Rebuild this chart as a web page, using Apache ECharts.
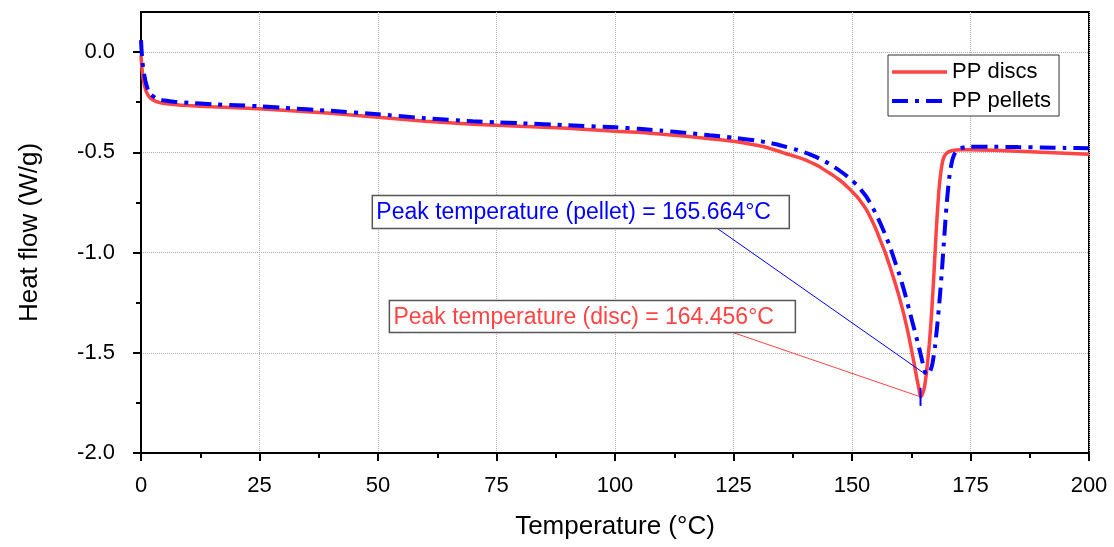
<!DOCTYPE html>
<html>
<head>
<meta charset="utf-8">
<script src="https://cdn.jsdelivr.net/npm/echarts@6/dist/echarts.min.js"></script>
<style>
  html, body { margin: 0; padding: 0; background: #fff; }
  #main { width: 1114px; height: 547px; }
</style>
</head>
<body>
<div id="main"></div>
<script>
var FONT = '"Liberation Sans", Arial, sans-serif';

// PP discs (red, solid)
var discTemp = [0, 0.2, 0.5, 1, 1.5, 2, 3, 4, 5, 7, 10, 15, 20, 25, 30, 40, 50, 60, 70, 75, 80, 90, 100, 105, 110, 115, 120, 125,
  130, 131, 132, 133, 134, 135, 136, 137, 138, 139, 140, 141, 142, 143, 144, 145, 146, 147, 148, 149, 150, 151, 152, 153, 154,
  155, 156, 157, 158, 159, 160, 161, 162, 163, 163.7, 164.2, 164.456, 164.8, 165.3, 165.8, 166.3, 166.8, 167.3, 167.8, 168.3,
  168.8, 169.3, 170, 171, 172, 173, 175, 180, 185, 190, 195, 200];
var discFlow = [-0.02, -0.08, -0.14, -0.19, -0.215, -0.23, -0.245, -0.252, -0.257, -0.262, -0.267, -0.273, -0.278, -0.283, -0.29, -0.305, -0.325, -0.345, -0.36, -0.365, -0.37, -0.38, -0.395, -0.4, -0.41, -0.42, -0.432, -0.445,
  -0.465, -0.47, -0.476, -0.483, -0.49, -0.498, -0.506, -0.513, -0.52, -0.528, -0.537, -0.547, -0.558, -0.57, -0.585, -0.6, -0.615, -0.632, -0.65, -0.672, -0.695, -0.72, -0.75, -0.785, -0.83,
  -0.88, -0.94, -1.0, -1.07, -1.145, -1.225, -1.315, -1.42, -1.54, -1.63, -1.69, -1.72, -1.71, -1.67, -1.58, -1.46, -1.3, -1.1, -0.88, -0.7,
  -0.59, -0.53, -0.503, -0.492, -0.488, -0.487, -0.487, -0.49, -0.495, -0.5, -0.505, -0.51];

// PP pellets (blue, dash-dot)
var pelletTemp = [0, 0.2, 0.5, 1, 1.5, 2, 3, 4, 5, 7, 10, 15, 20, 25, 30, 40, 50, 60, 70, 75, 80, 90, 100, 105, 110, 115, 120, 125,
  130, 131, 132, 133, 134, 135, 136, 137, 138, 139, 140, 141, 142, 143, 144, 145, 146, 147, 148, 149, 150, 151, 152, 153, 154,
  155, 156, 157, 158, 159, 160, 161, 162, 163, 164, 164.8, 165.3, 165.664, 166.1, 166.6, 167, 167.5, 168, 168.5, 169, 169.5,
  170, 170.5, 171, 171.5, 172, 173, 174, 175, 180, 185, 190, 195, 200];
var pelletFlow = [0.06, -0.02, -0.09, -0.15, -0.19, -0.21, -0.228, -0.237, -0.242, -0.248, -0.253, -0.26, -0.265, -0.27, -0.278, -0.293, -0.31, -0.33, -0.345, -0.35, -0.355, -0.365, -0.375, -0.383, -0.392, -0.403, -0.415, -0.427,
  -0.442, -0.446, -0.45, -0.455, -0.46, -0.466, -0.472, -0.478, -0.485, -0.492, -0.5, -0.509, -0.519, -0.53, -0.542, -0.555, -0.57, -0.585, -0.602, -0.62, -0.64, -0.663, -0.69, -0.72, -0.76,
  -0.805, -0.855, -0.91, -0.97, -1.04, -1.11, -1.19, -1.28, -1.37, -1.46, -1.54, -1.585, -1.61, -1.605, -1.585, -1.55, -1.47, -1.36, -1.23, -1.08, -0.91,
  -0.75, -0.63, -0.555, -0.515, -0.495, -0.48, -0.474, -0.472, -0.472, -0.474, -0.476, -0.478, -0.48];

var xTicks = [0, 25, 50, 75, 100, 125, 150, 175, 200];
var yTicks = [-2, -1.5, -1, -0.5, 0];
var seriesNames = ['PP discs', 'PP pellets'];
var discPeak = [164.456, -1.72];
var pelletPeak = [165.664, -1.61];
var discLabel = 'Peak temperature (disc) = 164.456°C';
var pelletLabel = 'Peak temperature (pellet) = 165.664°C';

var RED = '#ff4444';
var BLUE = '#0000ff';
var blueDash = [16, 7, 4, 7];

function zip(xs, ys) {
  return xs.map(function (x, i) { return [x, ys[i]]; });
}

var chart = echarts.init(document.getElementById('main'));

var tickStyle = { inside: false, length: 8, lineStyle: { width: 2, color: '#000' } };
var minorStyle = { show: true, splitNumber: 2, length: 5, lineStyle: { width: 2, color: '#000' } };
var gridLine = { show: true, lineStyle: { color: '#b0b0b0', type: 'dotted', width: 1 } };

var option = {
  animation: false,
  backgroundColor: '#fff',
  textStyle: { fontFamily: FONT },
  grid: {
    left: 141, right: 25, top: 12, bottom: 94,
    show: true, borderColor: '#000', borderWidth: 2
  },
  legend: {
    orient: 'vertical',
    left: 888, top: 55,
    padding: [6, 8, 4, 2],
    itemWidth: 55, itemHeight: 14, itemGap: 7,
    itemStyle: { opacity: 0 },
    backgroundColor: '#fff', borderColor: '#333', borderWidth: 1, borderRadius: 0,
    textStyle: { fontFamily: FONT, fontSize: 22, color: '#000' },
    data: [
      { name: seriesNames[0], lineStyle: { color: RED, width: 3.5, type: 'solid' } },
      { name: seriesNames[1], lineStyle: { color: BLUE, width: 4, type: blueDash } }
    ]
  },
  xAxis: {
    type: 'value', min: 0, max: 200, interval: 25,
    name: 'Temperature (°C)', nameLocation: 'middle', nameGap: 61,
    nameTextStyle: { fontFamily: FONT, fontSize: 26, color: '#000' },
    axisLine: { onZero: false, lineStyle: { color: '#000', width: 2 } },
    axisTick: tickStyle,
    minorTick: minorStyle,
    axisLabel: { margin: 22, fontFamily: FONT, fontSize: 22, color: '#000', customValues: xTicks },
    splitLine: gridLine
  },
  yAxis: {
    type: 'value', min: -2, max: 0.2, interval: 0.5,
    name: 'Heat flow (W/g)', nameLocation: 'middle', nameGap: 98,
    nameTextStyle: { fontFamily: FONT, fontSize: 26, color: '#000' },
    axisLine: { onZero: false, lineStyle: { color: '#000', width: 2 } },
    axisTick: Object.assign({ customValues: yTicks }, tickStyle),
    minorTick: minorStyle,
    axisLabel: {
      margin: 26, fontFamily: FONT, fontSize: 22, color: '#000',
      customValues: yTicks,
      formatter: function (v) { return v.toFixed(1); }
    },
    splitLine: gridLine
  },
  series: [
    {
      name: seriesNames[0],
      type: 'line',
      data: zip(discTemp, discFlow),
      showSymbol: false, symbol: 'none', smooth: 0.2,
      color: RED,
      lineStyle: { color: RED, width: 3.5 },
      z: 2,
      markLine: {
        silent: true, symbol: ['none', 'none'], animation: false,
        label: { show: false },
        lineStyle: { color: RED, width: 1, type: 'solid' },
        data: [[{ coord: [125.0, -1.40] }, { coord: discPeak }]]
      }
    },
    {
      name: seriesNames[1],
      type: 'line',
      data: zip(pelletTemp, pelletFlow),
      showSymbol: false, symbol: 'none', smooth: 0.2,
      color: BLUE,
      lineStyle: { color: BLUE, width: 4, type: blueDash },
      z: 3,
      markLine: {
        silent: true, symbol: ['none', 'none'], animation: false,
        label: { show: false },
        lineStyle: { color: BLUE, width: 1, type: 'solid' },
        data: [[{ coord: [121.6, -0.88] }, { coord: pelletPeak }]]
      },
      markPoint: {
        silent: true, animation: false,
        symbol: 'rect', symbolSize: [2, 18],
        itemStyle: { color: BLUE },
        label: { show: false },
        data: [{ coord: discPeak }]
      }
    }
  ]
};

chart.setOption(option);

// annotation boxes anchored at data coordinates (top-left corner of each box)
var boxes = [
  { at: [48.8, -0.716], w: 417, h: 33, text: pelletLabel, color: BLUE },
  { at: [52.4, -1.239], w: 406, h: 32, text: discLabel, color: RED }
];
var g = [];
boxes.forEach(function (b) {
  var p = chart.convertToPixel({ gridIndex: 0 }, b.at);
  g.push({
    type: 'rect', silent: true, z: 10,
    shape: { x: p[0], y: p[1], width: b.w, height: b.h },
    style: { fill: '#fff', stroke: '#555', lineWidth: 1.5 }
  });
  g.push({
    type: 'text', silent: true, z: 11,
    x: p[0] + 4, y: p[1] + b.h / 2 + 1,
    style: { text: b.text, fill: b.color, font: '23px ' + FONT, verticalAlign: 'middle' }
  });
});
chart.setOption({ graphic: g });
</script>
</body>
</html>
